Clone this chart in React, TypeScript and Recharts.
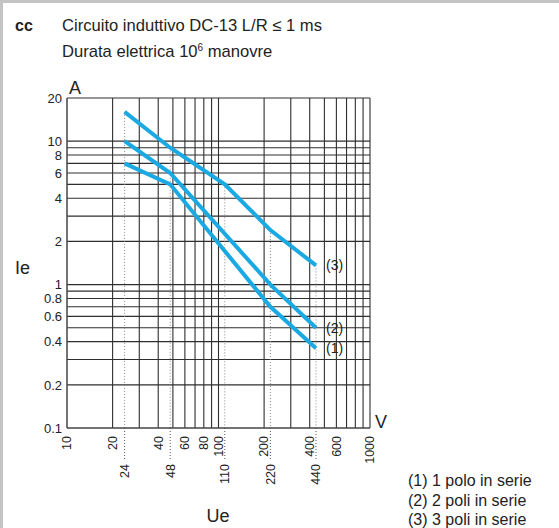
import React from 'react';
import { LineChart, Line, XAxis, YAxis, ReferenceLine, ReferenceDot } from 'recharts';

// Ue (V) / Ie (A) per curve
const ue1 = [24, 48, 220, 440];
const ie1 = [7, 5, 0.7, 0.36];
const ue2 = [24, 48, 220, 440];
const ie2 = [10, 6, 1.0, 0.5];
const ue3 = [24, 48, 110, 220, 440];
const ie3 = [16, 9, 5, 2.4, 1.36];
const curveLabels = ['(1)', '(2)', '(3)'];

const xMainTicks = [10, 20, 40, 60, 80, 100, 200, 400, 600, 1000];
const xRatedTicks = [24, 48, 110, 220, 440];
const yTicks = [0.1, 0.2, 0.4, 0.6, 0.8, 1, 2, 4, 6, 8, 10, 20];
const xGrid = [20, 30, 40, 50, 60, 70, 80, 90, 100, 200, 300, 400, 500, 600, 700, 800, 900, 1000];
const yGrid = [0.2, 0.3, 0.4, 0.5, 0.6, 0.7, 0.8, 0.9, 1, 2, 3, 4, 5, 6, 7, 8, 9, 10, 20];

const legendLines = ['(1) 1 polo in serie', '(2) 2 poli in serie', '(3) 3 poli in serie'];

const FONT = '"Liberation Sans", Arial, Helvetica, sans-serif';
const BLUE = '#1aa9e2';
const GRID = '#2e2e2e';

const toRows = (xs: number[], ys: number[]) => xs.map((x, i) => ({ ue: x, ie: ys[i] }));
const curves = [toRows(ue1, ie1), toRows(ue2, ie2), toRows(ue3, ie3)];

const XTick = (props: any) => {
  const { x, y, payload } = props;
  const v = payload.value;
  const rated = xRatedTicks.includes(v);
  const ty = rated ? y + 36 : y + 8;
  return (
    <g>
      {rated && (
        <line x1={x} y1={y} x2={x} y2={y + 33} stroke="#555" strokeWidth={1} strokeDasharray="1 2" />
      )}
      <text
        x={x}
        y={ty}
        transform={`rotate(-90, ${x}, ${ty})`}
        textAnchor="end"
        dy="0.35em"
        fontSize={12.5}
        fontFamily={FONT}
        fill="#222"
      >
        {v}
      </text>
    </g>
  );
};

const YTick = (props: any) => {
  const { x, y, payload } = props;
  return (
    <text x={x} y={y} dy="0.36em" textAnchor="end" fontSize={13} fontFamily={FONT} fill="#222">
      {payload.value}
    </text>
  );
};

export default function App() {
  const allXTicks = [...xMainTicks, ...xRatedTicks].sort((a, b) => a - b);
  return (
    <div style={{ position: 'absolute', left: 0, top: 0, width: 559, height: 528, background: '#fff', fontFamily: FONT }}>
      <LineChart width={559} height={528} margin={{ top: 98, right: 189, left: 7, bottom: 60 }}>
        <XAxis
          dataKey="ue"
          type="number"
          scale="log"
          domain={[10, 1000]}
          allowDataOverflow
          ticks={allXTicks}
          interval={0}
          tickLine={false}
          tickSize={0}
          tickMargin={0}
          height={40}
          tick={<XTick />}
          axisLine={{ stroke: '#444', strokeWidth: 1.5 }}
        />
        <YAxis
          type="number"
          scale="log"
          domain={[0.1, 20]}
          allowDataOverflow
          ticks={yTicks}
          interval={0}
          tickLine={false}
          tickSize={0}
          tickMargin={5}
          width={60}
          tick={<YTick />}
          axisLine={{ stroke: '#444', strokeWidth: 1.5 }}
        />
        {xGrid.map((v) => (
          <ReferenceLine key={'gx' + v} x={v} stroke={GRID} strokeWidth={1.1} />
        ))}
        {yGrid.map((v) => (
          <ReferenceLine key={'gy' + v} y={v} stroke={GRID} strokeWidth={1.1} />
        ))}
        {ue3.map((v, i) => (
          <ReferenceLine
            key={'d' + v}
            segment={[{ x: v, y: ie3[i] }, { x: v, y: 0.1 }]}
            stroke="#888"
            strokeWidth={1}
            strokeDasharray="1 2"
          />
        ))}
        {curves.map((rows, i) => (
          <Line
            key={'c' + i}
            data={rows}
            dataKey="ie"
            type="linear"
            stroke={BLUE}
            strokeWidth={4}
            dot={false}
            activeDot={false}
            isAnimationActive={false}
          />
        ))}
        {curves.map((rows, i) => {
          const last = rows[rows.length - 1];
          return (
            <ReferenceDot
              key={'l' + i}
              x={last.ue}
              y={last.ie}
              r={0}
              stroke="none"
              fill="none"
              label={{ value: curveLabels[i], position: 'right', offset: 10, fontSize: 14, fill: '#222', fontFamily: FONT }}
            />
          );
        })}
      </LineChart>
      <svg width={559} height={528} style={{ position: 'absolute', left: 0, top: 0, pointerEvents: 'none' }}>
        <line x1={0} y1={1.5} x2={559} y2={1.5} stroke="#c4c4c4" strokeWidth={3} />
        <line x1={1.5} y1={0} x2={1.5} y2={528} stroke="#c4c4c4" strokeWidth={3} />
        <text x={15} y={31} fontSize={16} fontWeight="bold" fontFamily={FONT} fill="#222">cc</text>
        <text x={62} y={31} fontSize={16.6} fontFamily={FONT} fill="#222">Circuito induttivo DC-13 L/R ≤ 1 ms</text>
        <text x={62} y={57} fontSize={16.6} fontFamily={FONT} fill="#222">
          Durata elettrica 10<tspan fontSize={10} dy={-6}>6</tspan>
          <tspan dy={6}> manovre</tspan>
        </text>
        <text x={69} y={94} fontSize={18} fontFamily={FONT} fill="#222">A</text>
        <text x={15} y={274} fontSize={18} fontFamily={FONT} fill="#222">Ie</text>
        <text x={375} y={428} fontSize={18} fontFamily={FONT} fill="#222">V</text>
        <text x={218} y={522} textAnchor="middle" fontSize={18} fontFamily={FONT} fill="#222">Ue</text>
        {legendLines.map((t, i) => (
          <text key={t} x={408} y={486 + i * 19.5} fontSize={16} fontFamily={FONT} fill="#222">{t}</text>
        ))}
      </svg>
    </div>
  );
}
